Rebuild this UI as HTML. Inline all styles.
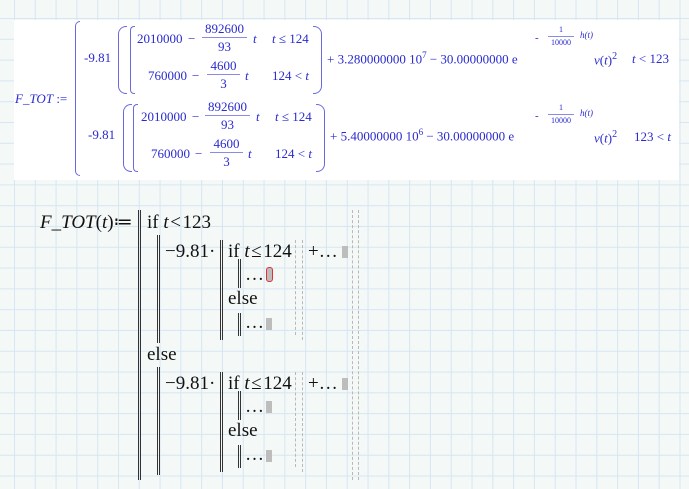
<!DOCTYPE html>
<html><head><meta charset="utf-8"><style>
body{margin:0;width:689px;height:489px;overflow:hidden;position:relative;
background-color:#f4f8f6;
background-image:linear-gradient(to right,#d6e6f4 1px,transparent 1px),linear-gradient(to bottom,#d6e6f4 1px,transparent 1px);
background-size:20.8px 20.8px;background-position:14px 18px;font-family:"Liberation Serif",serif;}
.a{position:absolute;white-space:nowrap;line-height:1}
.box{position:absolute;left:14px;top:20px;width:665px;height:160px;background:#fff}
.b{color:#2a2ad0;font-size:13px}
.k{color:#111;font-size:19px}
.fr{position:absolute;text-align:center;color:#2a2ad0;font-size:13px;line-height:1}
.fr .n{border-bottom:1px solid #8a8ae8;padding:0 0 2px}
.fr .d{padding-top:2px}
.db{position:absolute;width:1px;border-left:1.5px solid #333;border-right:1.5px solid #333}
.dg{position:absolute;width:0;border-left:1px dashed #b8b8b8}
.gr{position:absolute;width:6px;height:12px;background:#bdbdbd}
.br{position:absolute;border:1px solid #6a6ae0;border-right:none;width:4px}
.pr{position:absolute;border:1px solid #6a6ae0;width:8px}
</style></head><body>
<div class="box"></div>
<div class="a b" style="left:15px;top:92px;font-style:italic">F_TOT<span style="font-style:normal"> :=</span></div>
<div class="br" style="left:75px;top:21px;height:153px;border-radius:6px 0 0 6px"></div>
<!-- row1 -->
<div class="a b" style="left:84px;top:51px">-9.81</div>
<div class="pr" style="left:118px;top:26px;height:66px;border-right:none;border-radius:8px 0 0 8px"></div>
<div class="br" style="left:130px;top:26px;height:66px;border-radius:4px 0 0 4px"></div>
<div class="a b" style="left:137px;top:32px">2010000</div>
<div class="a b" style="left:188px;top:32px">−</div>
<div class="fr" style="left:202px;top:22px;width:45px"><div class="n">892600</div><div class="d">93</div></div>
<div class="a b" style="left:253px;top:32px;font-style:italic">t</div>
<div class="a b" style="left:272px;top:32px"><i>t</i> ≤ 124</div>
<div class="a b" style="left:148px;top:69px">760000</div>
<div class="a b" style="left:192px;top:69px">−</div>
<div class="fr" style="left:207px;top:59px;width:33px"><div class="n">4600</div><div class="d">3</div></div>
<div class="a b" style="left:245px;top:69px;font-style:italic">t</div>
<div class="a b" style="left:272px;top:69px">124 &lt; <i>t</i></div>
<div class="pr" style="left:313px;top:26px;height:66px;border-left:none;border-radius:0 8px 8px 0"></div>
<div class="a b" style="left:327px;top:51px">+ 3.280000000 10<sup style="font-size:9px">7</sup> − 30.00000000 e</div>
<div class="a b" style="left:535px;top:33px;font-size:11px">-</div>
<div class="fr" style="left:548px;top:26px;font-size:8px;width:26px"><div class="n">1</div><div class="d">10000</div></div>
<div class="a b" style="left:580px;top:31px;font-size:9px;font-style:italic">h(t)</div>
<div class="a b" style="left:594px;top:52px"><i>v</i>(<i>t</i>)<sup style="font-size:10px">2</sup></div>
<div class="a b" style="left:632px;top:52px"><i>t</i> &lt; 123</div>
<!-- row2 -->
<div class="a b" style="left:88px;top:128px">-9.81</div>
<div class="pr" style="left:123px;top:104px;height:66px;border-right:none;border-radius:8px 0 0 8px"></div>
<div class="br" style="left:133px;top:104px;height:66px;border-radius:4px 0 0 4px"></div>
<div class="a b" style="left:141px;top:110px">2010000</div>
<div class="a b" style="left:192px;top:110px">−</div>
<div class="fr" style="left:205px;top:100px;width:45px"><div class="n">892600</div><div class="d">93</div></div>
<div class="a b" style="left:256px;top:110px;font-style:italic">t</div>
<div class="a b" style="left:275px;top:110px"><i>t</i> ≤ 124</div>
<div class="a b" style="left:151px;top:147px">760000</div>
<div class="a b" style="left:195px;top:147px">−</div>
<div class="fr" style="left:210px;top:137px;width:33px"><div class="n">4600</div><div class="d">3</div></div>
<div class="a b" style="left:248px;top:147px;font-style:italic">t</div>
<div class="a b" style="left:275px;top:147px">124 &lt; <i>t</i></div>
<div class="pr" style="left:316px;top:104px;height:66px;border-left:none;border-radius:0 8px 8px 0"></div>
<div class="a b" style="left:330px;top:128px">+ 5.40000000 10<sup style="font-size:9px">6</sup> − 30.00000000 e</div>
<div class="a b" style="left:535px;top:111px;font-size:11px">-</div>
<div class="fr" style="left:548px;top:104px;font-size:8px;width:26px"><div class="n">1</div><div class="d">10000</div></div>
<div class="a b" style="left:580px;top:109px;font-size:9px;font-style:italic">h(t)</div>
<div class="a b" style="left:594px;top:130px"><i>v</i>(<i>t</i>)<sup style="font-size:10px">2</sup></div>
<div class="a b" style="left:634px;top:130px">123 &lt; <i>t</i></div>

<!-- bottom program -->
<div class="a k" style="left:40px;top:213px"><i>F_TOT</i>(<i>t</i>)≔</div>
<div class="db" style="left:138px;top:210px;height:270px"></div>
<div class="a k" style="left:147px;top:213px">if <i>t</i>&#8202;&lt;&#8202;123</div>
<div class="db" style="left:157px;top:235px;height:108px"></div>
<div class="db" style="left:157px;top:367px;height:108px"></div>
<div class="a k" style="left:147px;top:345px">else</div>
<div class="dg" style="left:352px;top:210px;height:270px"></div>
<div class="dg" style="left:358px;top:210px;height:270px"></div>

<div class="a k" style="left:165px;top:242px">−9.81·</div>
<div class="db" style="left:220px;top:240px;height:100px"></div>
<div class="a k" style="left:228px;top:242px">if <i>t</i>&#8202;≤&#8202;124</div>
<div class="db" style="left:238px;top:259px;height:29px"></div>
<div class="a k" style="left:245px;top:265px">…</div>
<div class="gr" style="left:266px;top:267px;height:13px;border:1px solid #e03030;border-radius:3px;width:5px"></div>
<div class="a k" style="left:228px;top:289px">else</div>
<div class="db" style="left:238px;top:313px;height:23px"></div>
<div class="a k" style="left:245px;top:313px">…</div>
<div class="gr" style="left:266px;top:318px"></div>
<div class="dg" style="left:295px;top:240px;height:95px"></div>
<div class="dg" style="left:302px;top:240px;height:100px"></div>
<div class="a k" style="left:308px;top:242px">+…</div>
<div class="gr" style="left:342px;top:246px"></div>

<div class="a k" style="left:165px;top:374px">−9.81·</div>
<div class="db" style="left:220px;top:372px;height:100px"></div>
<div class="a k" style="left:228px;top:374px">if <i>t</i>&#8202;≤&#8202;124</div>
<div class="db" style="left:238px;top:391px;height:29px"></div>
<div class="a k" style="left:245px;top:397px">…</div>
<div class="gr" style="left:266px;top:401px"></div>
<div class="a k" style="left:228px;top:421px">else</div>
<div class="db" style="left:238px;top:445px;height:23px"></div>
<div class="a k" style="left:245px;top:445px">…</div>
<div class="gr" style="left:266px;top:450px"></div>
<div class="dg" style="left:295px;top:372px;height:95px"></div>
<div class="dg" style="left:302px;top:372px;height:100px"></div>
<div class="a k" style="left:308px;top:374px">+…</div>
<div class="gr" style="left:342px;top:378px"></div>
</body></html>
